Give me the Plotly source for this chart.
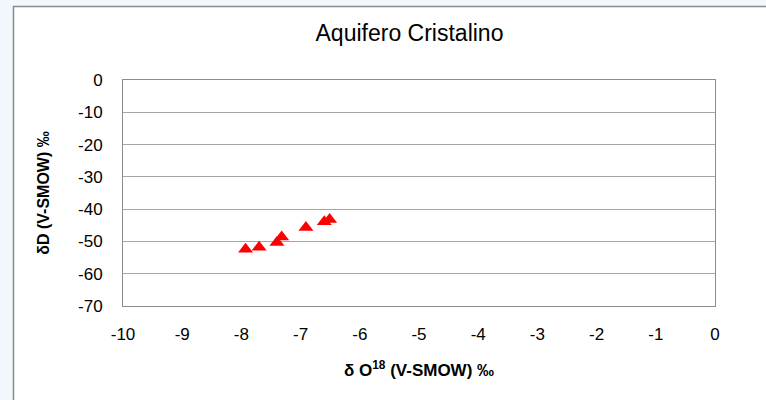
import plotly.graph_objects as go

# Isotope samples, crystalline aquifer
d18o = [-7.93, -7.70, -7.40, -7.32, -6.91, -6.60, -6.51]
d2h = [-52.4, -51.8, -50.3, -48.6, -45.7, -43.9, -43.2]

x_ticks = [-10, -9, -8, -7, -6, -5, -4, -3, -2, -1, 0]
y_ticks = [0, -10, -20, -30, -40, -50, -60, -70]

FONT = "Liberation Sans, Arial, sans-serif"


def hyphen_labels(values):
    # plain hyphen-minus labels instead of the typographic minus sign
    return [str(v) for v in values]


fig = go.Figure(
    go.Scatter(
        x=d18o,
        y=d2h,
        mode="markers",
        marker=dict(symbol="triangle-up", size=13, color="#ff0000",
                    line=dict(width=0)),
        hoverinfo="x+y",
    )
)

axis_common = dict(
    showline=True,
    linecolor="#8c8c8c",
    linewidth=1,
    mirror=True,
    ticks="",
    zeroline=False,
    tickfont=dict(family=FONT, size=17, color="#000000"),
)

fig.update_xaxes(
    range=[-10, 0],
    tickvals=x_ticks,
    ticktext=hyphen_labels(x_ticks),
    showgrid=False,
    ticklabelstandoff=13,
    title=dict(text="<b>δ O<sup>18</sup> (V-SMOW) ‰</b>",
               font=dict(family=FONT, size=17, color="#000000"),
               standoff=20),
    **axis_common,
)
fig.update_yaxes(
    range=[-70, 0],
    tickvals=y_ticks,
    ticktext=hyphen_labels(y_ticks),
    showgrid=True,
    gridcolor="#a6a6a6",
    gridwidth=1,
    ticklabelstandoff=16,
    title=dict(text="<b>δD (V-SMOW) ‰</b>",
               font=dict(family=FONT, size=16, color="#000000"),
               standoff=24),
    **axis_common,
)

fig.update_layout(
    width=766,
    height=400,
    margin=dict(l=123, r=51, t=80, b=94),
    paper_bgcolor="#f1f7fc",
    plot_bgcolor="#ffffff",
    showlegend=False,
    title=dict(text="Aquifero Cristalino", x=0.5346, xanchor="center",
               y=1 - 33 / 400, yanchor="middle",
               font=dict(family=FONT, size=23, color="#000000")),
    shapes=[
        # white chart area with grey frame
        dict(type="rect", xref="paper", yref="paper",
             x0=(13.5 - 123) / 592, x1=(800 - 123) / 592,
             y0=-0.5, y1=(306 - 6.5) / 226,
             fillcolor="#ffffff", line=dict(color="#8a8a8a", width=1.5),
             layer="below"),
    ],
)

fig.write_html("out.html")
